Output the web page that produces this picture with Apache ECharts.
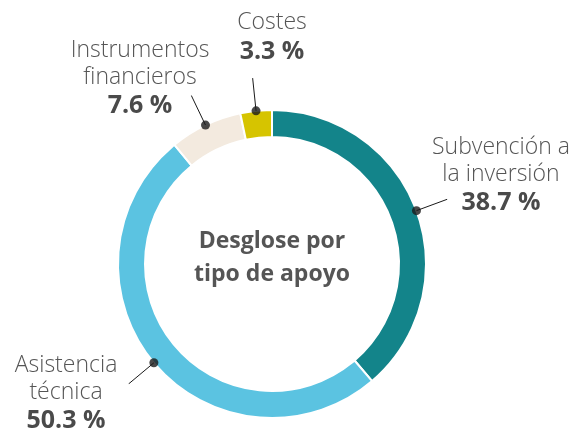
<!DOCTYPE html>
<html>
<head>
<meta charset="utf-8">
<script src="https://cdn.jsdelivr.net/npm/echarts@6/dist/echarts.min.js"></script>
<style>
  html, body { margin: 0; padding: 0; background: #fff; }
  #chart { width: 573px; height: 434px; }
</style>
</head>
<body>
<div id="chart"></div>
<script>
// desglose por tipo de apoyo
const categories = ['Subvención a\nla inversión', 'Asistencia\ntécnica', 'Instrumentos\nfinancieros', 'Costes'];
const shares = [38.7, 50.3, 7.6, 3.3];
const colors = ['#13848a', '#5bc3e1', '#f3eadf', '#d6c400'];

// posicion de cada etiqueta (centro del bloque de texto)
const labelPos = [[501, 176], [66, 394], [140, 79], [272, 38]];

const center = [272, 264];
const ringInner = 127;
const ringOuter = 154;
const lineLen = 33;

let chart = echarts.init(document.getElementById('chart'));

// angulo medio de cada sector, en % del total
const total = shares.reduce((a, b) => a + b, 0);
let acc = 0;
const midAngles = shares.map(v => {
  let m = (acc + v / 2) / total * 100;
  acc += v;
  return m;
});

let guideSeries = midAngles.map(a => ({
  type: 'line',
  coordinateSystem: 'polar',
  symbol: 'none',
  silent: true,
  z: 5,
  lineStyle: { color: '#1a1a1a', width: 1 },
  data: [[ringOuter, a], [ringOuter + lineLen, a]]
}));

let option = {
  animation: false,
  title: {
    text: 'Desglose por\ntipo de apoyo',
    left: center[0],
    top: 225,
    padding: 0,
    textAlign: 'center',
    textStyle: {
      fontFamily: 'Open Sans',
      fontWeight: 'bold',
      fontSize: 23,
      lineHeight: 33,
      color: '#555'
    }
  },
  polar: { center: center, radius: ringOuter + lineLen },
  angleAxis: {
    type: 'value', min: 0, max: 100, startAngle: 90, clockwise: true,
    axisLine: { show: false }, axisTick: { show: false },
    axisLabel: { show: false }, splitLine: { show: false }
  },
  radiusAxis: {
    type: 'value', min: 0, max: ringOuter + lineLen,
    axisLine: { show: false }, axisTick: { show: false },
    axisLabel: { show: false }, splitLine: { show: false }
  },
  series: [
    {
      type: 'pie',
      center: center,
      radius: [ringInner, ringOuter],
      startAngle: 90,
      clockwise: true,
      avoidLabelOverlap: false,
      silent: true,
      itemStyle: { borderColor: '#fff', borderWidth: 2 },
      label: {
        show: true,
        position: 'outside',
        formatter: p => '{n|' + p.name.split('\n').join('}\n{n|') + '}\n{p|' + p.value.toFixed(1) + ' %}',
        rich: {
          n: { fontFamily: 'Open Sans', fontWeight: 300, fontSize: 23, lineHeight: 27, color: '#555' },
          p: { fontFamily: 'Open Sans', fontWeight: 'bold', fontSize: 25, lineHeight: 31, color: '#4a4a4a' }
        }
      },
      labelLine: { show: false },
      labelLayout: params => ({
        x: labelPos[params.dataIndex][0],
        y: labelPos[params.dataIndex][1],
        align: 'center',
        verticalAlign: 'middle'
      }),
      data: categories.map((c, i) => ({ name: c, value: shares[i], itemStyle: { color: colors[i] } }))
    },
    ...guideSeries,
    {
      type: 'scatter',
      coordinateSystem: 'polar',
      symbol: 'circle',
      symbolSize: 9,
      silent: true,
      z: 6,
      itemStyle: { color: '#1a1a1a' },
      data: midAngles.map(a => [ringOuter, a])
    }
  ]
};
chart.setOption(option);
</script>
</body>
</html>
